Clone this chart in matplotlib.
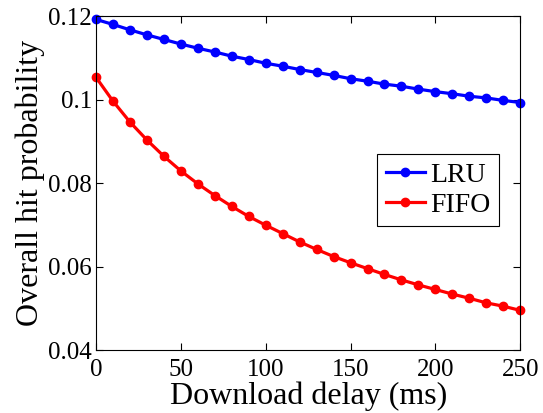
import numpy as np
import matplotlib
matplotlib.use('Agg')
import matplotlib.pyplot as plt

plt.rcParams['font.family'] = ['Liberation Serif', 'DejaVu Serif']
plt.rcParams['mathtext.fontset'] = 'stix'

# Download delay (ms)
delay = [0, 10, 20, 30, 40, 50, 60, 70, 80, 90, 100, 110, 120,
         130, 140, 150, 160, 170, 180, 190, 200, 210, 220, 230, 240, 250]

# Overall hit probability
lru = [0.1192, 0.1180, 0.1167, 0.1155, 0.1144, 0.1133, 0.1123, 0.1114, 0.1104,
       0.1096, 0.1087, 0.1080, 0.1072, 0.1065, 0.1058, 0.1050, 0.1044, 0.1037,
       0.1032, 0.1025, 0.1019, 0.1014, 0.1008, 0.1004, 0.0998, 0.0993]
fifo = [0.1053, 0.0996, 0.0946, 0.0903, 0.0864, 0.0829, 0.0798, 0.0770, 0.0744,
        0.0720, 0.0699, 0.0679, 0.0659, 0.0641, 0.0624, 0.0609, 0.0595, 0.0581,
        0.0568, 0.0556, 0.0545, 0.0534, 0.0524, 0.0513, 0.0505, 0.0495]

fig = plt.figure(figsize=(5.43, 4.13), dpi=100)
ax = fig.add_axes([0.177, 0.1525, 0.781, 0.8085])

ax.plot(delay, lru, '-o', color='blue', lw=2.3, ms=6, label='LRU', clip_on=False)
ax.plot(delay, fifo, '-o', color='red', lw=2.3, ms=6, label='FIFO', clip_on=False)

ax.set_xlim(0, 250)
ax.set_ylim(0.04, 0.12)
ax.set_xticks([0, 50, 100, 150, 200, 250])
ax.set_yticks([0.04, 0.06, 0.08, 0.1, 0.12])
ax.set_yticklabels(['0.04', '0.06', '0.08', '0.1', '0.12'])
ax.tick_params(direction='in', top=True, right=True, labelsize=18, length=5, width=0.8)
ax.tick_params(axis='x', pad=6.5)
ax.tick_params(axis='y', pad=3)
ax.set_xlabel('Download delay (ms)', fontsize=23, labelpad=0)
ax.set_ylabel('Overall hit probability', fontsize=23, labelpad=2)

leg = ax.legend(loc='upper left', bbox_to_anchor=(0.663, 0.586), fontsize=20,
                fancybox=False, edgecolor='black', framealpha=1,
                handlelength=1.4, borderpad=0.3, labelspacing=0.15, handletextpad=0.2,
                borderaxespad=0)
leg.get_frame().set_linewidth(0.8)

fig.savefig('out.png', dpi=100)
